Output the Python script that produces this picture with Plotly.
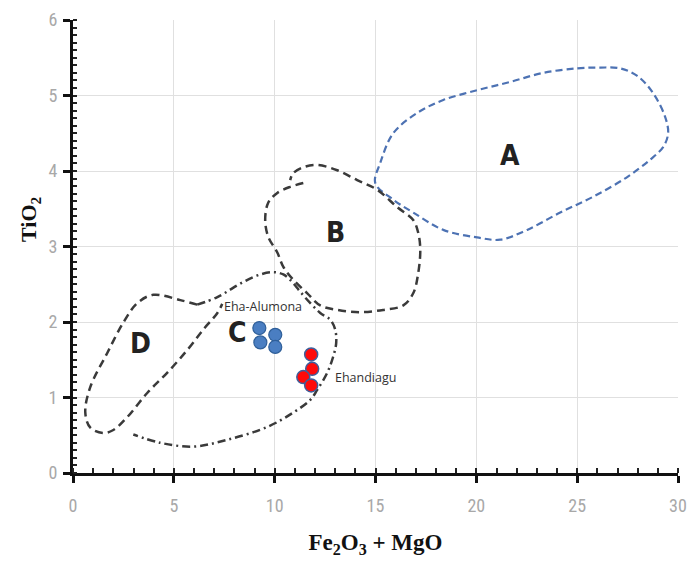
import plotly.graph_objects as go

# ---- field outlines (Fe2O3+MgO, TiO2) ----
field_A_x = [14.99, 15.24, 15.88, 17.07, 18.36, 20.04, 21.68, 23.32, 25.00, 26.14, 27.13, 27.98,
             28.77, 29.37, 29.51, 29.27, 28.62, 27.48, 25.80, 24.16, 22.52, 21.18, 20.04, 18.36,
             16.87, 15.88, 14.99]
field_A_y = [3.84, 4.11, 4.50, 4.77, 4.94, 5.07, 5.18, 5.30, 5.36, 5.37, 5.36, 5.26,
             5.03, 4.71, 4.50, 4.32, 4.15, 3.92, 3.66, 3.45, 3.22, 3.09, 3.12, 3.22,
             3.45, 3.62, 3.84]

field_B_x = [11.42, 10.77, 10.13, 9.68, 9.53, 9.68, 10.13, 10.43, 10.92, 11.62, 12.26, 13.10,
             14.24, 15.38, 16.38, 16.87, 17.12, 17.22, 17.12, 16.87, 16.08, 15.09, 14.09, 13.10,
             12.11, 11.42, 10.92, 10.77]
field_B_y = [3.84, 3.79, 3.71, 3.58, 3.35, 3.13, 2.92, 2.73, 2.56, 2.38, 2.22, 2.16,
             2.13, 2.16, 2.22, 2.38, 2.65, 2.96, 3.18, 3.35, 3.52, 3.75, 3.88, 4.01,
             4.08, 4.05, 3.97, 3.88]

field_C_x = [6.16, 7.16, 8.44, 9.29, 9.93, 10.43, 10.87, 11.27, 11.77, 12.26, 12.76, 13.00,
             13.05, 12.90, 12.61, 12.11, 11.77, 10.92, 9.63, 7.65, 5.96, 4.33, 2.99]
field_C_y = [2.23, 2.33, 2.53, 2.63, 2.66, 2.63, 2.53, 2.40, 2.25, 2.12, 2.03, 1.90,
             1.72, 1.54, 1.33, 1.10, 0.97, 0.80, 0.61, 0.44, 0.35, 0.40, 0.51]

field_D_x = [6.16, 5.32, 3.98, 3.19, 2.49, 1.70, 0.86, 0.61, 0.86, 1.50, 2.00, 2.69,
             3.68, 4.68, 5.67, 6.46, 7.16, 7.40]
field_D_y = [2.23, 2.29, 2.36, 2.25, 1.99, 1.59, 1.14, 0.80, 0.60, 0.53, 0.57, 0.74,
             1.06, 1.33, 1.63, 1.90, 2.12, 2.24]

# ---- samples ----
eha_alumona_x = [9.24, 10.03, 9.29, 10.03]
eha_alumona_y = [1.92, 1.83, 1.73, 1.67]
ehandiagu_x = [11.81, 11.86, 11.42, 11.81]
ehandiagu_y = [1.57, 1.38, 1.27, 1.16]

# ---- labels ----
field_labels = ["A", "B", "C", "D"]
field_label_x = [21.68, 13.0, 8.15, 3.34]
field_label_y = [4.21, 3.18, 1.86, 1.72]
sample_labels = ["Eha-Alumona", "Ehandiagu"]
sample_label_x = [9.44, 14.5]
sample_label_y = [2.20, 1.26]

x_ticks = [0, 5, 10, 15, 20, 25, 30]
y_ticks = [0, 1, 2, 3, 4, 5, 6]

fig = go.Figure()

blue_line = "#4d72b3"
dark_line = "#3a3a3a"

fig.add_trace(go.Scatter(x=field_A_x, y=field_A_y, mode="lines",
                         line=dict(color=blue_line, width=2.2, dash="7px,4px", shape="spline", smoothing=1.0),
                         hoverinfo="skip", showlegend=False))
fig.add_trace(go.Scatter(x=field_B_x, y=field_B_y, mode="lines",
                         line=dict(color=dark_line, width=2.5, dash="8px,5px", shape="spline", smoothing=1.0),
                         hoverinfo="skip", showlegend=False))
fig.add_trace(go.Scatter(x=field_C_x, y=field_C_y, mode="lines",
                         line=dict(color=dark_line, width=2.5, dash="8px,4px,2px,4px", shape="spline", smoothing=1.0),
                         hoverinfo="skip", showlegend=False))
fig.add_trace(go.Scatter(x=field_D_x, y=field_D_y, mode="lines",
                         line=dict(color=dark_line, width=2.5, dash="8px,5px", shape="spline", smoothing=1.0),
                         hoverinfo="skip", showlegend=False))

fig.add_trace(go.Scatter(x=eha_alumona_x, y=eha_alumona_y, mode="markers",
                         marker=dict(size=13, color="#4a7ec2", line=dict(color="#2f5f99", width=1.2)),
                         showlegend=False))
fig.add_trace(go.Scatter(x=ehandiagu_x, y=ehandiagu_y, mode="markers",
                         marker=dict(size=13, color="#ff0a0a", line=dict(color="#3d5f9c", width=1.5)),
                         showlegend=False))

for t, x, y in zip(field_labels, field_label_x, field_label_y):
    fig.add_annotation(x=x, y=y, text="<b>" + t + "</b>", showarrow=False,
                       font=dict(family="Liberation Sans Narrow, DejaVu Sans Condensed", size=28, color="#222222"))
for t, x, y in zip(sample_labels, sample_label_x, sample_label_y):
    fig.add_annotation(x=x, y=y, text=t, showarrow=False,
                       font=dict(family="Open Sans, Liberation Sans", size=12.5, color="#333333"))

# y axis title as annotation (sits a little above axis centre)
fig.add_annotation(xref="paper", yref="paper", x=-0.07, y=0.56, xanchor="center", yanchor="middle",
                   text="<b>TiO<sub>2</sub></b>", textangle=-90, showarrow=False,
                   font=dict(family="Liberation Serif, Times New Roman, serif", size=22, color="#111111"))

tick_font = dict(family="Liberation Sans Narrow, Roboto Condensed, Liberation Sans", size=18, color="#a8a8a8")

fig.update_xaxes(range=[0, 30], tickvals=x_ticks, ticktext=[str(v) for v in x_ticks],
                 showgrid=True, gridcolor="#e0e0e0", gridwidth=1, automargin=False,
                 showline=True, linecolor="#111111", linewidth=3,
                 ticks="outside", ticklen=7, tickwidth=2.5, tickcolor="#111111",
                 minor=dict(dtick=1, ticks="inside", ticklen=5, tickwidth=2, tickcolor="#222222", showgrid=False),
                 tickfont=tick_font, ticklabelstandoff=7, zeroline=False,
                 title=dict(text="<b>Fe<sub>2</sub>O<sub>3</sub> + MgO</b>", standoff=20,
                            font=dict(family="Liberation Serif, Times New Roman, serif", size=23, color="#111111")))
fig.update_yaxes(range=[0, 6], tickvals=y_ticks, ticktext=[str(v) for v in y_ticks],
                 showgrid=True, gridcolor="#e0e0e0", gridwidth=1, automargin=False,
                 showline=True, linecolor="#111111", linewidth=3,
                 ticks="outside", ticklen=7, tickwidth=2.5, tickcolor="#111111",
                 minor=dict(dtick=0.1, ticks="inside", ticklen=4, tickwidth=2, tickcolor="#222222", showgrid=False),
                 tickfont=tick_font, ticklabelstandoff=2, zeroline=False)

fig.update_layout(width=689, height=574, plot_bgcolor="white", paper_bgcolor="white",
                  margin=dict(l=73, r=11, t=20, b=101, autoexpand=False), showlegend=False)

fig.write_html("out.html", config={"responsive": False, "displayModeBar": False},
               post_script="document.body.style.margin='0';document.body.style.overflow='hidden';")
